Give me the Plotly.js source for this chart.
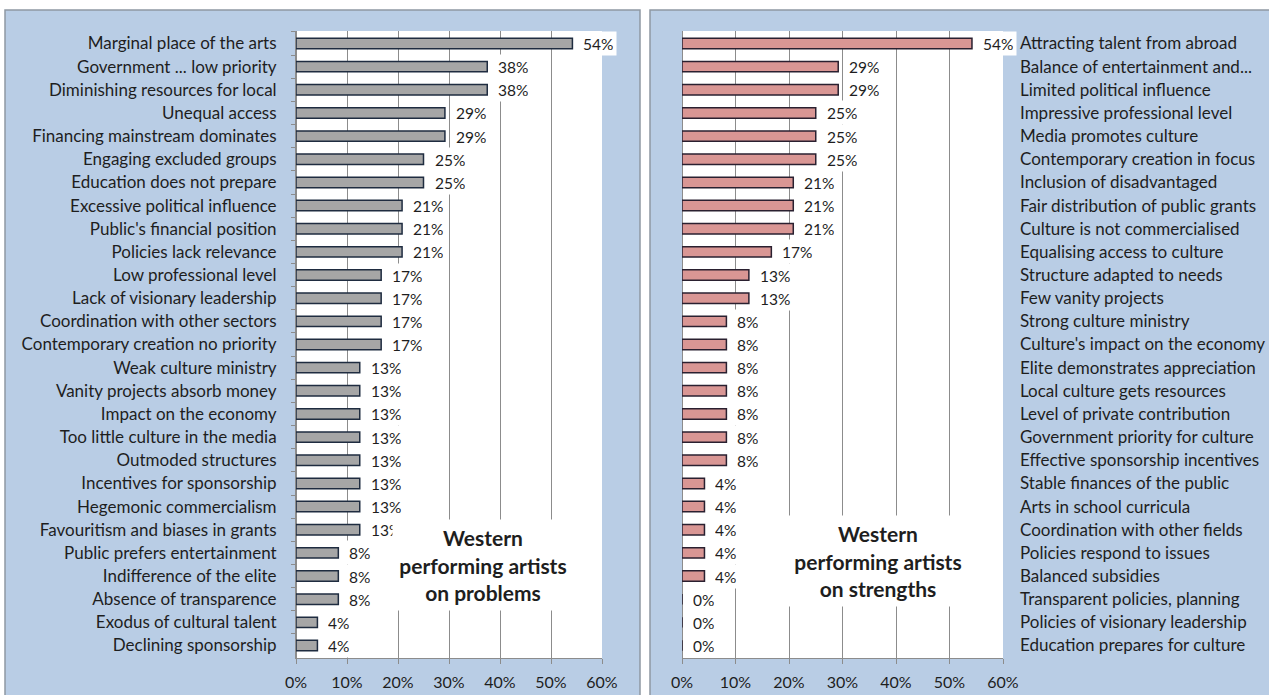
<!DOCTYPE html>
<html>
<head>
<meta charset="utf-8">
<script src="https://cdn.plot.ly/plotly-3.0.1.min.js"></script>
<style>html,body{margin:0;padding:0;background:#fff;}#chart{width:1269px;height:695px;}</style>
</head>
<body>
<div id="chart"></div>
<script>
// ---- data ----
const problemLabels = [
  "Marginal place of the arts", "Government ... low priority", "Diminishing resources for local",
  "Unequal access", "Financing mainstream dominates", "Engaging excluded groups",
  "Education does not prepare", "Excessive political influence", "Public's financial position",
  "Policies lack relevance", "Low professional level", "Lack of visionary leadership",
  "Coordination with other sectors", "Contemporary creation no priority", "Weak culture ministry",
  "Vanity projects absorb money", "Impact on the economy", "Too little culture in the media",
  "Outmoded structures", "Incentives for sponsorship", "Hegemonic commercialism",
  "Favouritism and biases in grants", "Public prefers entertainment", "Indifference of the elite",
  "Absence of transparence", "Exodus of cultural talent", "Declining sponsorship"
];
const problemValues = [
  54.2, 37.5, 37.5, 29.2, 29.2, 25.0, 25.0, 20.8, 20.8, 20.8, 16.7, 16.7, 16.7, 16.7,
  12.5, 12.5, 12.5, 12.5, 12.5, 12.5, 12.5, 12.5, 8.3, 8.3, 8.3, 4.2, 4.2
];
const strengthLabels = [
  "Attracting talent from abroad", "Balance of entertainment and...", "Limited political influence",
  "Impressive professional level", "Media promotes culture", "Contemporary creation in focus",
  "Inclusion of disadvantaged", "Fair distribution of public grants", "Culture is not commercialised",
  "Equalising access to culture", "Structure adapted to needs", "Few vanity projects",
  "Strong culture ministry", "Culture's impact on the economy", "Elite demonstrates appreciation",
  "Local culture gets resources", "Level of private contribution", "Government priority for culture",
  "Effective sponsorship incentives", "Stable finances of the public", "Arts in school curricula",
  "Coordination with other fields", "Policies respond to issues", "Balanced subsidies",
  "Transparent policies, planning", "Policies of visionary leadership", "Education prepares for culture"
];
const strengthValues = [
  54.2, 29.2, 29.2, 25.0, 25.0, 25.0, 20.8, 20.8, 20.8, 16.7, 12.5, 12.5,
  8.3, 8.3, 8.3, 8.3, 8.3, 8.3, 8.3, 4.2, 4.2, 4.2, 4.2, 4.2, 0, 0, 0
];
const xTicks = [0, 10, 20, 30, 40, 50, 60];
const xTickText = ["0%", "10%", "20%", "30%", "40%", "50%", "60%"];
const leftTitle = ["Western", "performing artists", "on problems"];
const rightTitle = ["Western", "performing artists", "on strengths"];

// ---- styling ----
const W = 1269, H = 695;
const px = v => v / W;
const py = v => 1 - v / H;
const FONT = "Lato, 'Open Sans', sans-serif";
const TXT = "#1e1e1e";
const GRID = "#8c8c8c";
const AXIS = "#8c8c8c";

const traces = [
  {
    type: "bar", orientation: "h", x: problemValues, y: problemLabels,
    xaxis: "x", yaxis: "y",
    marker: {color: "#a6a6a6", line: {color: "#1f2c40", width: 1.5}},
    hoverinfo: "x+y"
  },
  {
    type: "bar", orientation: "h", x: strengthValues, y: strengthLabels,
    xaxis: "x2", yaxis: "y2",
    marker: {color: "#d99694", line: {color: "#2a2030", width: 1.5}},
    hoverinfo: "x+y"
  }
];

const annotations = [];
function addValueLabels(labels, values, xr, yr) {
  labels.forEach((c, i) => {
    annotations.push({
      xref: xr, yref: yr, x: values[i], y: c,
      text: Math.round(values[i]) + "%",
      xanchor: "left", yanchor: "middle", xshift: 7,
      showarrow: false, bgcolor: "white", borderpad: 3, height: 17,
      font: {family: FONT, size: 15.5, color: TXT}
    });
  });
}
addValueLabels(problemLabels, problemValues, "x", "y");
addValueLabels(strengthLabels, strengthValues, "x2", "y2");

function addTitle(lines, cx, cy, w, h) {
  annotations.push({
    xref: "paper", yref: "paper", x: px(cx), y: py(cy),
    xanchor: "center", yanchor: "middle", showarrow: false,
    text: lines.join("<br>"), align: "center",
    bgcolor: "white", borderpad: 0, width: w, height: h,
    font: {family: FONT, size: 21, color: TXT, weight: 700}
  });
}
addTitle(leftTitle, 483, 565, 180, 90);
addTitle(rightTitle, 878, 561, 210, 90);

const shapes = [
  {type: "rect", xref: "paper", yref: "paper", x0: px(5), x1: px(640), y0: py(700), y1: py(10),
   fillcolor: "#b9cde5", line: {color: "#8e98a3", width: 1.5}, layer: "below"},
  {type: "rect", xref: "paper", yref: "paper", x0: px(650), x1: px(1275), y0: py(700), y1: py(10),
   fillcolor: "#b9cde5", line: {color: "#8e98a3", width: 1.5}, layer: "below"},
  {type: "rect", xref: "x domain", yref: "y domain", x0: 0, x1: 1, y0: 0, y1: 1,
   fillcolor: "white", line: {width: 0}, layer: "below"},
  {type: "rect", xref: "x2 domain", yref: "y2 domain", x0: 0, x1: 1, y0: 0, y1: 1,
   fillcolor: "white", line: {width: 0}, layer: "below"}
];

const xCommon = {
  range: [0, 60], tickmode: "array", tickvals: xTicks, ticktext: xTickText,
  showgrid: true, gridcolor: GRID, gridwidth: 1,
  zeroline: true, zerolinecolor: AXIS, zerolinewidth: 1,
  showline: true, linecolor: AXIS, linewidth: 1,
  ticks: "outside", ticklen: 5, tickcolor: AXIS,
  ticklabelstandoff: 5,
  tickfont: {family: FONT, size: 16, color: TXT},
  fixedrange: true
};

const layout = {
  width: W, height: H,
  margin: {l: 0, r: 0, t: 0, b: 0, pad: 0},
  paper_bgcolor: "white", plot_bgcolor: "white",
  showlegend: false, bargap: 0.55,
  xaxis: Object.assign({}, xCommon, {domain: [px(296), px(602)], anchor: "y"}),
  xaxis2: Object.assign({}, xCommon, {domain: [px(682), px(1003)], anchor: "y2"}),
  yaxis: {
    domain: [py(658), py(31)], anchor: "x", type: "category",
    autorange: "reversed", showgrid: false, zeroline: false,
    showline: true, linecolor: AXIS, linewidth: 1,
    ticks: "outside", tickson: "boundaries", ticklen: 4, tickcolor: AXIS,
    ticklabelstandoff: 15,
    tickfont: {family: FONT, size: 17, color: TXT}, fixedrange: true
  },
  yaxis2: {
    domain: [py(658), py(31)], anchor: "x2", side: "right", type: "category",
    autorange: "reversed", showgrid: false, zeroline: false,
    showline: false, ticks: "",
    ticklabelstandoff: 16,
    tickfont: {family: FONT, size: 17, color: TXT}, fixedrange: true
  },
  shapes: shapes,
  annotations: annotations
};

Plotly.newPlot("chart", traces, layout, {displayModeBar: false, staticPlot: true});
</script>
</body>
</html>
